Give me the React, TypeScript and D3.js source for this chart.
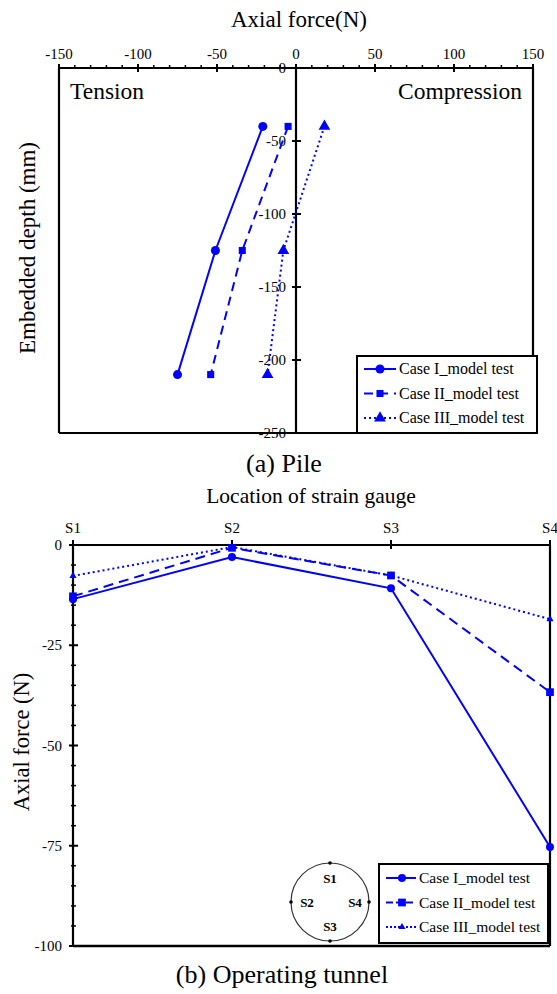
import React from "react";
import * as d3 from "d3";

// ---- Data: (a) Pile ----
const pileDepths = [-40, -125, -210];
const pileCase1 = [-21, -51, -75];
const pileCase2 = [-5, -34, -54];
const pileCase3 = [18, -8, -18];
const pileXTicks = [-150, -100, -50, 0, 50, 100, 150];
const pileYTicks = [0, -50, -100, -150, -200, -250];

// ---- Data: (b) Operating tunnel ----
const gauges = ["S1", "S2", "S3", "S4"];
const tunCase1 = [-13.5, -3, -10.8, -75.3];
const tunCase2 = [-12.8, -0.7, -7.6, -36.7];
const tunCase3 = [-7.7, -0.5, -7.6, -18.5];
const tunYTicks = [0, -25, -50, -75, -100];

const seriesNames = ["Case I_model test", "Case II_model test", "Case III_model test"];

const BLUE = "#0000ff";
const FONT = "Liberation Serif, Times New Roman, DejaVu Serif, serif";

type Sty = { dash?: string; sym: d3.SymbolType; size: number; w: number };

function Marker({ x, y, s }: { x: number; y: number; s: Sty }) {
  const p = d3.symbol().type(s.sym).size(s.size)() as string;
  return <path d={p} transform={`translate(${x},${y})`} fill={BLUE} />;
}

export default function App() {
  // Pile chart scales
  const xP = d3.scaleLinear().domain([-150, 150]).range([59, 533]);
  const yP = d3.scaleLinear().domain([0, -250]).range([68, 433]);
  const pileStyles: Sty[] = [
    { sym: d3.symbolCircle, size: 64, w: 2 },
    { dash: "9,6", sym: d3.symbolSquare, size: 50, w: 2 },
    { dash: "2,3", sym: d3.symbolTriangle, size: 60, w: 2 },
  ];
  const pileSeries = [pileCase1, pileCase2, pileCase3];
  const pileLine = d3
    .line<[number, number]>()
    .x((d) => xP(d[0]))
    .y((d) => yP(d[1]));
  const minorP = d3.range(-150, 151, 10).filter((v) => v % 50 !== 0);

  // Tunnel chart scales
  const xT = d3.scalePoint<string>().domain(gauges).range([73, 550]);
  const yT = d3.scaleLinear().domain([0, -100]).range([545, 946]);
  const tunStyles: Sty[] = [
    { sym: d3.symbolCircle, size: 50, w: 2 },
    { dash: "10,6", sym: d3.symbolSquare, size: 60, w: 2 },
    { dash: "2,3", sym: d3.symbolTriangle, size: 22, w: 2 },
  ];
  const tunSeries = [tunCase1, tunCase2, tunCase3];
  const tunLine = d3
    .line<[string, number]>()
    .x((d) => xT(d[0]) as number)
    .y((d) => yT(d[1]));
  const minorT = d3.range(0, -101, -5).filter((v) => v % 25 !== 0);

  // inset circle
  const cx = 330,
    cy = 902,
    r = 39;

  return (
    <svg width={557} height={994} fontFamily={FONT} style={{ position: "absolute", left: 0, top: 0 }}>
      <rect width={557} height={994} fill="#fff" />
      {/* ================= (a) Pile ================= */}
      <text x={299} y={27} fontSize={23} textAnchor="middle">
        Axial force(N)
      </text>
      {pileXTicks.map((t) => (
        <g key={"pxt" + t}>
          <text x={xP(t)} y={59} fontSize={15} textAnchor="middle">
            {t}
          </text>
          <line x1={xP(t)} x2={xP(t)} y1={64} y2={72} stroke="#000" strokeWidth={2} />
        </g>
      ))}
      {minorP.map((t) => (
        <line key={"pm" + t} x1={xP(t)} x2={xP(t)} y1={65} y2={68} stroke="#000" strokeWidth={1.5} />
      ))}
      {/* frame */}
      <line x1={xP(-150)} x2={xP(150)} y1={yP(0)} y2={yP(0)} stroke="#000" strokeWidth={2.2} />
      <line x1={xP(-150)} x2={xP(150)} y1={yP(-250)} y2={yP(-250)} stroke="#000" strokeWidth={2.2} />
      <line x1={xP(-150)} x2={xP(-150)} y1={yP(0)} y2={yP(-250)} stroke="#000" strokeWidth={2.2} />
      <line x1={xP(150)} x2={xP(150)} y1={yP(0)} y2={yP(-250)} stroke="#000" strokeWidth={2.2} />
      <line x1={xP(0)} x2={xP(0)} y1={yP(0)} y2={yP(-250)} stroke="#000" strokeWidth={2.2} />
      {pileYTicks.map((t) => (
        <g key={"pyt" + t}>
          <line x1={xP(0) - 4} x2={xP(0) + 5} y1={yP(t)} y2={yP(t)} stroke="#000" strokeWidth={2} />
          <text x={xP(0) - 10} y={yP(t) + 5} fontSize={15} textAnchor="end">
            {t}
          </text>
        </g>
      ))}
      <text x={70} y={99} fontSize={23.5}>
        Tension
      </text>
      <text x={522} y={99} fontSize={23.5} textAnchor="end">
        Compression
      </text>
      <text transform={`translate(35,${248}) rotate(-90)`} fontSize={23} textAnchor="middle">
        Embedded depth (mm)
      </text>
      {pileSeries.map((vals, i) => {
        const pts = vals.map((v, j) => [v, pileDepths[j]] as [number, number]);
        const s = pileStyles[i];
        return (
          <g key={"ps" + i}>
            <path d={pileLine(pts) as string} fill="none" stroke={BLUE} strokeWidth={s.w} strokeDasharray={s.dash} />
            {pts.map((p, j) => (
              <Marker key={j} x={xP(p[0])} y={yP(p[1])} s={s} />
            ))}
          </g>
        );
      })}
      {/* legend */}
      <rect x={357} y={356} width={180} height={77} fill="#fff" stroke="#000" strokeWidth={2} />
      {seriesNames.map((n, i) => {
        const yy = 369 + i * 24.5;
        const s = pileStyles[i];
        return (
          <g key={"pl" + i}>
            <line x1={364} x2={396} y1={yy} y2={yy} stroke={BLUE} strokeWidth={s.w} strokeDasharray={s.dash} />
            <Marker x={380} y={yy} s={s} />
            <text x={399} y={yy + 5} fontSize={16}>
              {n}
            </text>
          </g>
        );
      })}
      <text x={284} y={472} fontSize={26} textAnchor="middle">
        (a) Pile
      </text>

      {/* ================= (b) Operating tunnel ================= */}
      <text x={311} y={503} fontSize={21.5} textAnchor="middle">
        Location of strain gauge
      </text>
      {gauges.map((g) => (
        <g key={"tg" + g}>
          <text x={xT(g) as number} y={533} fontSize={15} textAnchor="middle">
            {g}
          </text>
          <line x1={xT(g) as number} x2={xT(g) as number} y1={540} y2={549} stroke="#000" strokeWidth={2} />
        </g>
      ))}
      <line x1={73} x2={550} y1={yT(0)} y2={yT(0)} stroke="#000" strokeWidth={2.2} />
      <line x1={73} x2={550} y1={yT(-100)} y2={yT(-100)} stroke="#000" strokeWidth={2.5} />
      <line x1={73} x2={73} y1={yT(0)} y2={yT(-100)} stroke="#000" strokeWidth={2.2} />
      <line x1={550} x2={550} y1={yT(0)} y2={yT(-100)} stroke="#000" strokeWidth={2.2} />
      {tunYTicks.map((t) => (
        <g key={"tyt" + t}>
          <line x1={69} x2={78} y1={yT(t)} y2={yT(t)} stroke="#000" strokeWidth={2} />
          <text x={62} y={yT(t) + 5} fontSize={15} textAnchor="end">
            {t}
          </text>
        </g>
      ))}
      {minorT.map((t) => (
        <line key={"tm" + t} x1={71} x2={76} y1={yT(t)} y2={yT(t)} stroke="#000" strokeWidth={1.5} />
      ))}
      <text transform={`translate(29,${742}) rotate(-90)`} fontSize={22.5} textAnchor="middle">
        Axial force (N)
      </text>
      {tunSeries.map((vals, i) => {
        const pts = vals.map((v, j) => [gauges[j], v] as [string, number]);
        const s = tunStyles[i];
        return (
          <g key={"ts" + i}>
            <path d={tunLine(pts) as string} fill="none" stroke={BLUE} strokeWidth={s.w} strokeDasharray={s.dash} />
            {pts.map((p, j) => (
              <Marker key={j} x={xT(p[0]) as number} y={yT(p[1])} s={s} />
            ))}
          </g>
        );
      })}
      {/* inset */}
      <circle cx={cx} cy={cy} r={r} fill="none" stroke="#333" strokeWidth={1.2} />
      {[
        [0, -r],
        [-r, 0],
        [0, r],
        [r, 0],
      ].map((d, i) => (
        <circle key={"ic" + i} cx={cx + d[0]} cy={cy + d[1]} r={1.8} fill="#000" />
      ))}
      <text x={cx} y={cy - 19} fontSize={13} fontWeight="bold" textAnchor="middle">
        S1
      </text>
      <text x={cx - 23} y={cy + 5} fontSize={13} fontWeight="bold" textAnchor="middle">
        S2
      </text>
      <text x={cx} y={cy + 29} fontSize={13} fontWeight="bold" textAnchor="middle">
        S3
      </text>
      <text x={cx + 25} y={cy + 5} fontSize={13} fontWeight="bold" textAnchor="middle">
        S4
      </text>
      {/* legend */}
      <rect x={379} y={864} width={169} height={79} fill="#fff" stroke="#000" strokeWidth={2} />
      {seriesNames.map((n, i) => {
        const yy = 878 + i * 24.5;
        const s = tunStyles[i];
        return (
          <g key={"tl" + i}>
            <line x1={386} x2={416} y1={yy} y2={yy} stroke={BLUE} strokeWidth={s.w} strokeDasharray={s.dash ? (i === 1 ? "7,3" : "2,2") : undefined} />
            <Marker x={402} y={yy} s={s} />
            <text x={419} y={yy + 5} fontSize={15.5}>
              {n}
            </text>
          </g>
        );
      })}
      <text x={282} y={983} fontSize={26} textAnchor="middle">
        (b) Operating tunnel
      </text>
    </svg>
  );
}
